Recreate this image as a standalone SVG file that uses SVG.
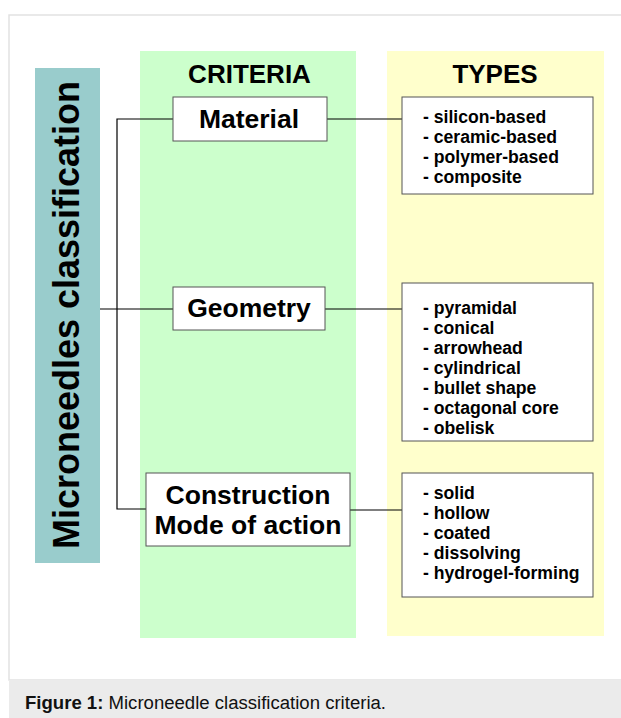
<svg xmlns="http://www.w3.org/2000/svg" width="621" height="718" viewBox="0 0 621 718">
<style>
.box{fill:#fff;stroke:#555;stroke-width:1}
.conn{fill:none;stroke:#000;stroke-width:1.2}
.t{font-family:"Liberation Sans",Arial,sans-serif;font-weight:bold;fill:#000}
.crit{font-size:26.5px;text-anchor:middle}
.head{font-size:26px;text-anchor:middle}
.list{font-size:17.6px}
</style>
<rect x="0" y="0" width="621" height="718" fill="#fff"/>
<rect x="9" y="15" width="630" height="665" fill="#fff" stroke="#e2e2e2" stroke-width="1.5"/>
<rect x="9" y="680" width="630" height="38" fill="#ebebeb"/>
<text x="25" y="709" font-family="Liberation Sans,Arial,sans-serif" font-size="18" fill="#111" textLength="361" lengthAdjust="spacingAndGlyphs"><tspan font-weight="bold">Figure 1:</tspan> Microneedle classification criteria.</text>

<g id="bands">
<rect x="140" y="51" width="216" height="587" fill="#ccffcc"/>
<rect x="387" y="51" width="217" height="585" fill="#ffffcc"/>
</g>

<g id="root">
<rect x="35" y="68" width="65" height="495" fill="#99cccc"/>
<text class="t" transform="translate(79,315) rotate(-90)" font-size="36" text-anchor="middle">Microneedles classification</text>
</g>

<g id="headers">
<text class="t head" x="249.5" y="83">CRITERIA</text>
<text class="t head" x="495" y="83">TYPES</text>
</g>

<g id="connectors">
<polyline class="conn" points="173,119 117,119 117,509 146,509"/>
<line class="conn" x1="100" y1="309" x2="173" y2="309"/>
<line class="conn" x1="327" y1="119" x2="402" y2="119"/>
<line class="conn" x1="325" y1="309" x2="402" y2="309"/>
<line class="conn" x1="350" y1="510" x2="402" y2="510"/>
</g>

<g id="material">
<rect class="box" x="173" y="97" width="154" height="44"/>
<text class="t crit" x="249" y="128">Material</text>
</g>
<g id="geometry">
<rect class="box" x="173" y="287" width="152" height="43"/>
<text class="t crit" x="249" y="317">Geometry</text>
</g>
<g id="construction">
<rect class="box" x="146" y="473" width="204" height="73"/>
<text class="t crit" x="248" y="504">Construction</text>
<text class="t crit" x="248" y="534">Mode of action</text>
</g>

<g id="types-material">
<rect class="box" x="402" y="97" width="191" height="97"/>
<text class="t list" x="423" y="123">- silicon-based</text>
<text class="t list" x="423" y="143">- ceramic-based</text>
<text class="t list" x="423" y="163">- polymer-based</text>
<text class="t list" x="423" y="183">- composite</text>
</g>
<g id="types-geometry">
<rect class="box" x="402" y="283" width="191" height="158"/>
<text class="t list" x="423" y="314">- pyramidal</text>
<text class="t list" x="423" y="334">- conical</text>
<text class="t list" x="423" y="354">- arrowhead</text>
<text class="t list" x="423" y="374">- cylindrical</text>
<text class="t list" x="423" y="394">- bullet shape</text>
<text class="t list" x="423" y="414">- octagonal core</text>
<text class="t list" x="423" y="434">- obelisk</text>
</g>
<g id="types-construction">
<rect class="box" x="402" y="473" width="191" height="124"/>
<text class="t list" x="423" y="499">- solid</text>
<text class="t list" x="423" y="519">- hollow</text>
<text class="t list" x="423" y="539">- coated</text>
<text class="t list" x="423" y="559">- dissolving</text>
<text class="t list" x="423" y="579">- hydrogel-forming</text>
</g>
</svg>
